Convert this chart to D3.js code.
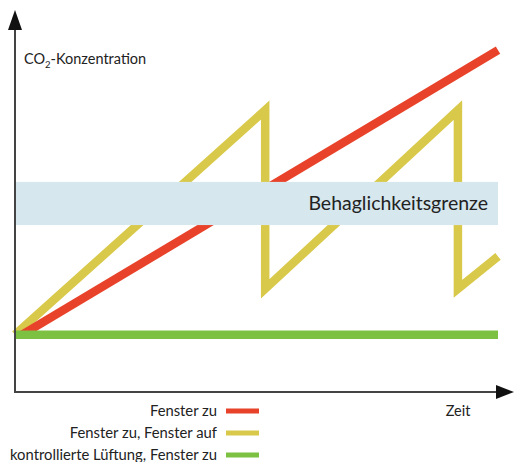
<!DOCTYPE html>
<html>
<head>
<meta charset="utf-8">
<script src="https://cdn.jsdelivr.net/npm/d3@7"></script>
<style>
  body { margin: 0; background: #fff; }
  text { font-family: Lato, "Open Sans", sans-serif; fill: #222; }
</style>
</head>
<body>
<svg width="515" height="462"></svg>
<script>
const svg = d3.select('svg');

// relative time (0..100) and concentration (0..100)
const redTime = [1.5, 100];
const redValue = [15, 89.5];
const yellowTime = [0, 51.8, 51.8, 91.7, 91.7, 100];
const yellowValue = [15, 73.8, 27, 73.8, 27, 35.5];
const greenTime = [0, 100];
const greenValue = [15, 15];
const bandRange = [43.7, 55];
const bandLabel = 'Behaglichkeitsgrenze';
const legendLabels = ['Fenster zu', 'Fenster zu, Fenster auf', 'kontrollierte Lüftung, Fenster zu'];
const colors = ['#e8432a', '#d9c94a', '#7dc142'];

const xScale = d3.scaleLinear().domain([0, 100]).range([15, 498]);
const yScale = d3.scaleLinear().domain([0, 100]).range([392, 10]);

const line = d3.line()
    .x(d => xScale(d[0]))
    .y(d => yScale(d[1]));

const series = [
    d3.zip(redTime, redValue),
    d3.zip(yellowTime, yellowValue),
    d3.zip(greenTime, greenValue)
];

// draw order: yellow, red, green
[1, 0, 2].forEach(i => {
    svg.append('path')
        .attr('d', line(series[i]))
        .attr('fill', 'none')
        .attr('stroke', colors[i])
        .attr('stroke-width', 8.5)
        .attr('stroke-linejoin', 'miter')
        .attr('stroke-miterlimit', 10);
});

// comfort band sits on top of the lines
svg.append('rect')
    .attr('x', xScale(0) + 1)
    .attr('y', yScale(bandRange[1]))
    .attr('width', xScale(100) - xScale(0) - 1)
    .attr('height', yScale(bandRange[0]) - yScale(bandRange[1]))
    .attr('fill', '#d6e7ee');

svg.append('text')
    .attr('x', xScale(100) - 10)
    .attr('y', (yScale(bandRange[0]) + yScale(bandRange[1])) / 2 + 7)
    .attr('text-anchor', 'end')
    .attr('font-size', 19.5)
    .text(bandLabel);

// axes with arrows
const axisColor = '#444';
svg.append('line')
    .attr('x1', xScale(0)).attr('y1', yScale(0) + 1)
    .attr('x2', xScale(0)).attr('y2', 26)
    .attr('stroke', axisColor).attr('stroke-width', 2);
svg.append('path')
    .attr('d', `M${xScale(0)},10 L${xScale(0) - 7},30 L${xScale(0) + 7},30 Z`)
    .attr('fill', '#111');

svg.append('line')
    .attr('x1', xScale(0) - 1).attr('y1', yScale(0))
    .attr('x2', 500).attr('y2', yScale(0))
    .attr('stroke', axisColor).attr('stroke-width', 2);
svg.append('path')
    .attr('d', `M514,${yScale(0)} L496,${yScale(0) - 7} L496,${yScale(0) + 7} Z`)
    .attr('fill', '#111');

const yLabel = svg.append('text')
    .attr('x', 24)
    .attr('y', 64)
    .attr('font-size', 14.5);
yLabel.append('tspan').text('CO');
yLabel.append('tspan').attr('font-size', 9.5).attr('dy', 4).text('2');
yLabel.append('tspan').attr('dy', -4).text('-Konzentration');

svg.append('text')
    .attr('x', 458)
    .attr('y', 416)
    .attr('text-anchor', 'middle')
    .attr('font-size', 14.5)
    .text('Zeit');

// legend
const legendY = d3.scalePoint().domain(legendLabels).range([411, 455]);
const legend = svg.selectAll('.legend').data(legendLabels)
    .enter().append('g')
    .attr('class', 'legend')
    .attr('transform', d => `translate(0, ${legendY(d)})`);
legend.append('text')
    .attr('x', 217)
    .attr('y', 5)
    .attr('text-anchor', 'end')
    .attr('font-size', 14.8)
    .text(d => d);
legend.append('line')
    .attr('x1', 226).attr('x2', 259)
    .attr('y1', 0).attr('y2', 0)
    .attr('stroke', (d, i) => colors[i])
    .attr('stroke-width', 5);
</script>
</body>
</html>
